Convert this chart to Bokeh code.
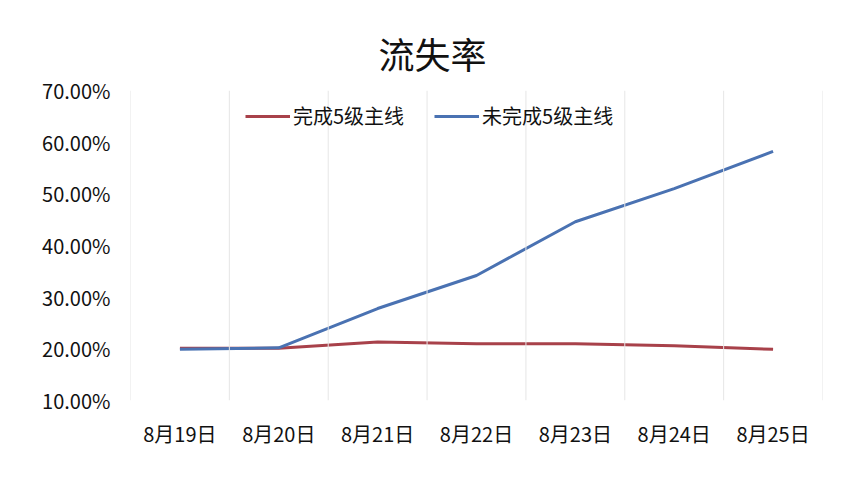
from bokeh.plotting import figure
from bokeh.models import Legend, LegendItem, NumeralTickFormatter, FixedTicker, ColumnDataSource, Span
from bokeh.embed import file_html
from bokeh.resources import INLINE

categories = ["8月19日", "8月20日", "8月21日", "8月22日", "8月23日", "8月24日", "8月25日"]
completed = [0.201, 0.201, 0.213, 0.210, 0.210, 0.206, 0.199]
not_completed = [0.199, 0.202, 0.278, 0.342, 0.446, 0.510, 0.582]
y_ticks = [0.1, 0.2, 0.3, 0.4, 0.5, 0.6, 0.7]

FONT = "Noto Sans CJK SC"

p = figure(x_range=categories, y_range=(0.1, 0.7), width=860, height=500,
           output_backend="svg", toolbar_location=None,
           min_border_left=130, min_border_right=38, min_border_top=90, min_border_bottom=100)

p.title.text = "流失率"
p.title.align = "left"
p.title.offset = 248
p.title.text_font = FONT
p.title.text_font_size = "36px"
p.title.text_font_style = "normal"
p.title.text_color = "#111111"
p.title.standoff = 24

src = ColumnDataSource(dict(x=categories, a=completed, b=not_completed))
r1 = p.line("x", "a", source=src, line_color="#A8414A", line_width=3)
r2 = p.line("x", "b", source=src, line_color="#4A72B2", line_width=3)

legend = Legend(items=[LegendItem(label="完成5级主线", renderers=[r1]),
                       LegendItem(label="未完成5级主线", renderers=[r2])],
                orientation="horizontal", location=(115, 270),
                padding=0, margin=0, spacing=30, label_standoff=3,
                glyph_width=45, glyph_height=20,
                label_text_font=FONT, label_text_font_size="20px", label_text_color="#111111",
                border_line_color=None, background_fill_alpha=0)
p.add_layout(legend, "center")

p.outline_line_color = None
p.ygrid.grid_line_color = None
p.xgrid.grid_line_color = None
# vertical gridlines at category boundaries
for i in range(len(categories) + 1):
    p.add_layout(Span(location=i, dimension="height", line_color="#e6e6e6", line_width=1))

p.yaxis.ticker = FixedTicker(ticks=y_ticks)
p.yaxis.formatter = NumeralTickFormatter(format="0.00%")
for ax in (p.xaxis, p.yaxis):
    ax.axis_line_color = None
    ax.major_tick_line_color = None
    ax.minor_tick_line_color = None
    ax.major_label_text_font = FONT
    ax.major_label_text_font_size = "20px"
    ax.major_label_text_color = "#111111"
p.yaxis.major_label_standoff = 14
p.xaxis.major_label_standoff = 12

open("out.html", "w").write(file_html(p, INLINE))
